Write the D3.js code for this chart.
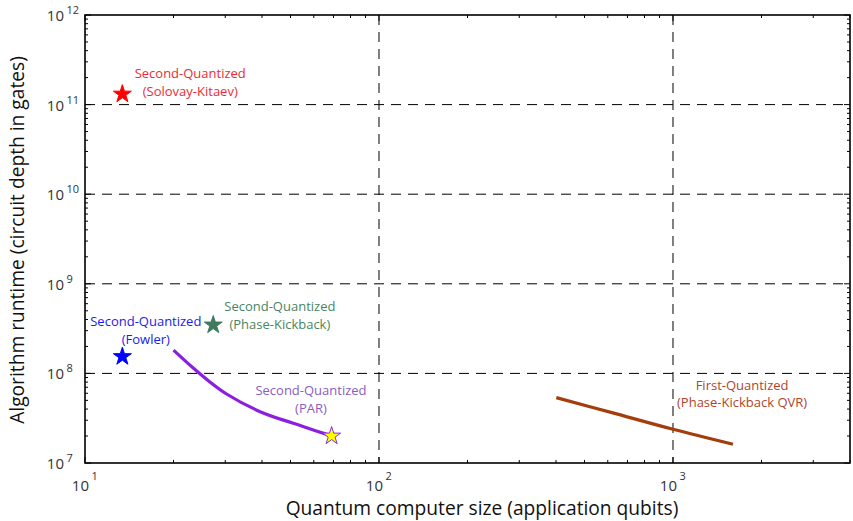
<!DOCTYPE html>
<html><head><meta charset="utf-8">
<script src="https://cdn.jsdelivr.net/npm/d3@7"></script>
<style>body{margin:0;background:#fff}svg{display:block}text{font-family:"Open Sans",sans-serif}</style>
</head><body><svg id="c" width="853" height="521"></svg>
<script>
// ---- data ----
const xDomain = [10, 4000];
const yDomain = [1e7, 1e12];
const xMajor = [10, 100, 1000];
const yMajor = [1e7, 1e8, 1e9, 1e10, 1e11, 1e12];
const xGrid = [100, 1000];
const yGrid = [1e8, 1e9, 1e10, 1e11];

const parX = [20, 23.4, 26.6, 30.3, 39.4, 51.1, 69];
const parY = [1.82e8, 1.14e8, 8.02e7, 5.89e7, 3.74e7, 2.77e7, 2.0e7];
const qvrX = [401, 643, 1000, 1600];
const qvrY = [5.36e7, 3.53e7, 2.38e7, 1.62e7];

const starNames = ["Solovay-Kitaev", "Fowler", "Phase-Kickback", "PAR"];
const starX = [13.4, 13.4, 27.3, 69];
const starY = [1.31e11, 1.54e8, 3.47e8, 2.0e7];

const labelLine1 = ["Second-Quantized", "Second-Quantized", "Second-Quantized", "Second-Quantized", "First-Quantized"];
const labelLine2 = ["(Solovay-Kitaev)", "(Fowler)", "(Phase-Kickback)", "(PAR)", "(Phase-Kickback QVR)"];
const labelX = [22.8, 16.1, 46.0, 58.7, 1718];
const labelY = [1.98e11, 3.38e8, 4.97e8, 5.74e7, 6.53e7];

// ---- styles ----
const starFill = ["#ff0000", "#0000ff", "#3f7a5c", "#ffff00"];
const starStroke = ["#ff0000", "#0000ff", "#3f7a5c", "#8a2be2"];
const labelColor = ["#ee2a35", "#1a1aee", "#4a8462", "#8a5cc4", "#b0452c"];

const svg = d3.select("#c");
const L = 85, R = 850, T = 15, B = 463;
const x = d3.scaleLog().domain(xDomain).range([L, R]);
const y = d3.scaleLog().domain(yDomain).range([B, T]);

// grid
svg.append("g").selectAll("line").data(xGrid).join("line")
  .attr("x1", d => x(d)).attr("x2", d => x(d)).attr("y1", T).attr("y2", B)
  .attr("stroke", "#000").attr("stroke-width", 1).attr("stroke-dasharray", "10,7");
svg.append("g").selectAll("line").data(yGrid).join("line")
  .attr("y1", d => y(d)).attr("y2", d => y(d)).attr("x1", L).attr("x2", R)
  .attr("stroke", "#000").attr("stroke-width", 1).attr("stroke-dasharray", "10,7");

// ticks (inward, all four sides)
const xTicks = x.ticks();
const yTicks = y.ticks();
const isMajor = v => Math.abs(Math.log10(v) - Math.round(Math.log10(v))) < 1e-9;
const tk = svg.append("g").attr("stroke", "#000").attr("stroke-width", 1);
xTicks.forEach(v => {
  const len = isMajor(v) ? 6 : 3;
  tk.append("line").attr("x1", x(v)).attr("x2", x(v)).attr("y1", B).attr("y2", B - len);
  tk.append("line").attr("x1", x(v)).attr("x2", x(v)).attr("y1", T).attr("y2", T + len);
});
yTicks.forEach(v => {
  const len = isMajor(v) ? 6 : 3;
  tk.append("line").attr("y1", y(v)).attr("y2", y(v)).attr("x1", L).attr("x2", L + len);
  tk.append("line").attr("y1", y(v)).attr("y2", y(v)).attr("x1", R).attr("x2", R - len);
});

// frame
svg.append("rect").attr("x", L).attr("y", T).attr("width", R - L).attr("height", B - T)
  .attr("fill", "none").attr("stroke", "#000").attr("stroke-width", 1.6);

// tick labels
const tl = svg.append("g").attr("fill", "#333");
xMajor.forEach(v => {
  tl.append("text").attr("x", x(v) + 4).attr("y", 491).attr("text-anchor", "end")
    .attr("font-size", 15).text("10");
  tl.append("text").attr("x", x(v) + 6.5).attr("y", 480).attr("font-size", 11)
    .text(Math.round(Math.log10(v)));
});
yMajor.forEach(v => {
  tl.append("text").attr("x", 64).attr("y", y(v) + 6).attr("text-anchor", "end")
    .attr("font-size", 15).text("10");
  tl.append("text").attr("x", 66.5).attr("y", y(v) - 1).attr("font-size", 11)
    .text(Math.round(Math.log10(v)));
});

// axis titles
svg.append("text").attr("x", 482).attr("y", 515).attr("text-anchor", "middle")
  .attr("font-size", 19.2).attr("fill", "#111").text("Quantum computer size (application qubits)");
svg.append("text").attr("transform", "translate(24,240) rotate(-90)").attr("text-anchor", "middle")
  .attr("font-size", 19.2).attr("fill", "#111").text("Algorithm runtime (circuit depth in gates)");

// lines
const line = d3.line().x(d => x(d[0])).y(d => y(d[1])).curve(d3.curveCatmullRom);
svg.append("path").datum(d3.zip(parX, parY)).attr("d", line)
  .attr("fill", "none").attr("stroke", "#8a1fe0").attr("stroke-width", 3.2);
svg.append("path").datum(d3.zip(qvrX, qvrY)).attr("d", line)
  .attr("fill", "none").attr("stroke", "#a33d0c").attr("stroke-width", 3.2);

// stars
const star = d3.symbol().type(d3.symbolStar).size(100);
starNames.forEach((n, i) => {
  svg.append("path").attr("d", star())
    .attr("transform", `translate(${x(starX[i])},${y(starY[i])})`)
    .attr("fill", starFill[i]).attr("stroke", starStroke[i]).attr("stroke-width", 1);
});

// labels
labelLine1.forEach((s, i) => {
  const g = svg.append("text").attr("text-anchor", "middle").attr("font-size", 13)
    .attr("fill", labelColor[i]);
  g.append("tspan").attr("x", x(labelX[i])).attr("y", y(labelY[i])).text(s);
  g.append("tspan").attr("x", x(labelX[i])).attr("y", y(labelY[i]) + 17.5).text(labelLine2[i]);
});
</script></body></html>
